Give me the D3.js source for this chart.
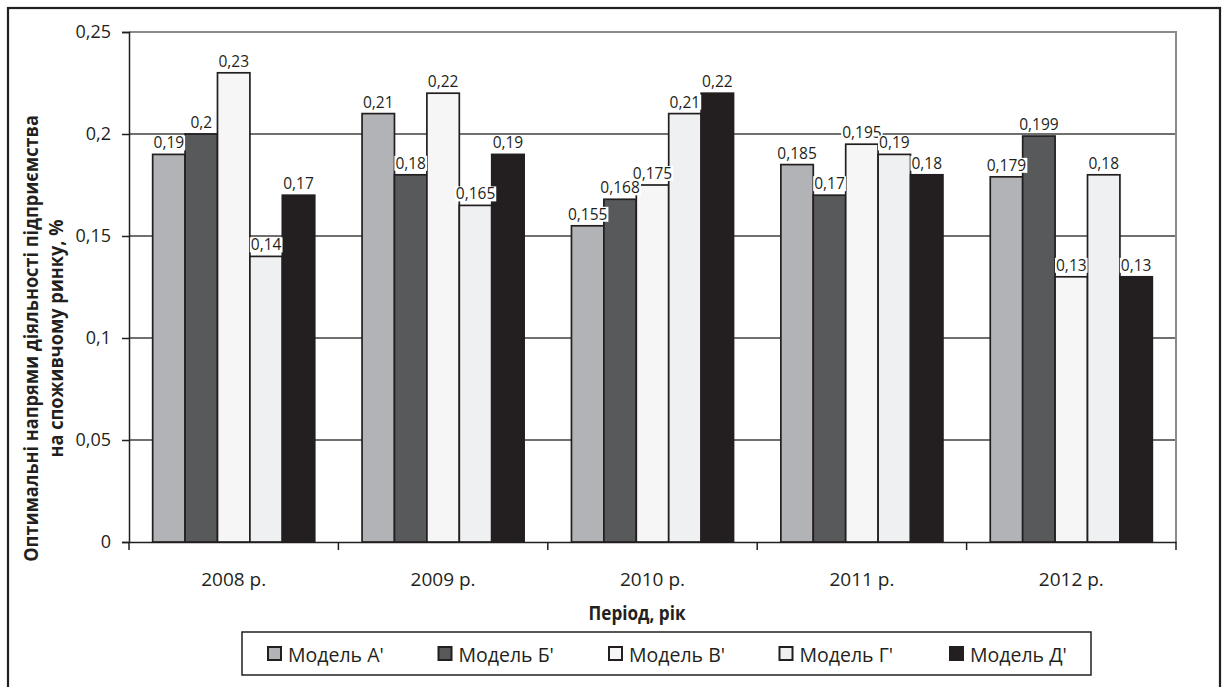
<!DOCTYPE html>
<html><head><meta charset="utf-8">
<script src="https://cdn.jsdelivr.net/npm/d3@7"></script>
<style>
body{margin:0;background:#fff;}
svg{display:block;}
text{font-family:"Open Sans","Noto Sans",sans-serif;fill:#231f20;}
</style></head><body>
<svg id="c" width="1224" height="687"></svg>
<script>
const categories = ["2008 р.","2009 р.","2010 р.","2011 р.","2012 р."];
const seriesNames = ["Модель А'","Модель Б'","Модель В'","Модель Г'","Модель Д'"];
const seriesColors = ["#b1b3b6","#58595b","#f6f6f6","#eff0f2","#231f20"];
const modelA = [0.19,0.21,0.155,0.185,0.179];
const modelB = [0.2,0.18,0.168,0.17,0.199];
const modelV = [0.23,0.22,0.175,0.195,0.13];
const modelG = [0.14,0.165,0.21,0.19,0.18];
const modelD = [0.17,0.19,0.22,0.18,0.13];
const yTicks = [0,0.05,0.1,0.15,0.2,0.25];
const seriesValues = [modelA,modelB,modelV,modelG,modelD];

const svg = d3.select("#c");
const L=129,R=1176,T=32,B=542;
const fmt = v => String(v).replace(".",",");

// outer frame
svg.append("rect").attr("x",8).attr("y",8).attr("width",1212).attr("height",700)
  .attr("fill","none").attr("stroke","#231f20").attr("stroke-width",2.2);

const x0 = d3.scaleBand().domain(categories).range([L,R]).paddingInner(0).paddingOuter(0);
const x1 = d3.scaleBand().domain(d3.range(5)).range([0,x0.bandwidth()]).paddingOuter(0.73).paddingInner(0);
const y = d3.scaleLinear().domain([0,0.25]).range([B,T]);

// gridlines
svg.append("g").selectAll("line").data(yTicks.filter(t=>t>0 && t<0.25)).join("line")
  .attr("x1",L).attr("x2",R).attr("y1",d=>y(d)).attr("y2",d=>y(d))
  .attr("stroke","#414042").attr("stroke-width",1.3);
// plot area top/right border
svg.append("path").attr("d",`M${L},${T}H${R}V${B}`).attr("fill","none")
  .attr("stroke","#8a8b8d").attr("stroke-width",2);

// y axis
const yAxis = svg.append("g").attr("transform",`translate(${L},0)`)
  .call(d3.axisLeft(y).tickValues(yTicks).tickFormat(fmt).tickSize(7).tickPadding(11));
yAxis.select(".domain").attr("stroke","#231f20").attr("stroke-width",1.5);
yAxis.selectAll(".tick line").attr("stroke","#231f20").attr("stroke-width",1.5);
yAxis.selectAll(".tick text").attr("font-size",18).attr("fill","#231f20")
  .attr("font-family","'Open Sans',sans-serif");

// x axis
const xAxis = svg.append("g").attr("transform",`translate(0,${B})`)
  .call(d3.axisBottom(x0).tickSize(0).tickPadding(31));
xAxis.select(".domain").attr("stroke","#231f20").attr("stroke-width",1.5);
xAxis.selectAll(".tick text").attr("font-size",19).attr("fill","#231f20")
  .attr("font-family","'Open Sans',sans-serif");
svg.append("g").selectAll("line").data(d3.range(6)).join("line")
  .attr("x1",i=>L+i*x0.step()).attr("x2",i=>L+i*x0.step())
  .attr("y1",B).attr("y2",B+8).attr("stroke","#231f20").attr("stroke-width",1.5);

// bars
const groups = svg.append("g").selectAll("g").data(categories).join("g")
  .attr("transform",d=>`translate(${x0(d)},0)`);
const barData = (c,ci) => seriesValues.map((vals,si)=>({si,v:vals[ci]}));
groups.each(function(c,ci){
  d3.select(this).selectAll("rect.bar").data(barData(c,ci)).join("rect").attr("class","bar")
    .attr("x",d=>x1(d.si)).attr("width",x1.bandwidth())
    .attr("y",d=>y(d.v)).attr("height",d=>B-y(d.v))
    .attr("fill",d=>seriesColors[d.si]).attr("stroke","#231f20").attr("stroke-width",1.7);
});
// data labels with white backing
groups.each(function(c,ci){
  const lg = d3.select(this).selectAll("g.lab").data(barData(c,ci)).join("g").attr("class","lab")
    .attr("transform",d=>`translate(${x1(d.si)+x1.bandwidth()/2},${y(d.v)-6})`);
  lg.each(function(d){
    const gg = d3.select(this);
    const t = gg.append("text").attr("text-anchor","middle").attr("font-size",15.5).text(fmt(d.v));
    const bb = t.node().getBBox();
    gg.insert("rect","text").attr("x",bb.x-1).attr("y",-13).attr("width",bb.width+2).attr("height",15)
      .attr("fill","#fff");
  });
});

// axis titles
svg.append("text").attr("transform","translate(637,620) scale(0.88,1)").attr("text-anchor","middle")
  .attr("font-size",19.5).attr("font-weight","bold").text("Період, рік");
const yt = svg.append("text").attr("transform","translate(0,338.5) rotate(-90) scale(0.93,1)")
  .attr("text-anchor","middle").attr("font-size",19.5).attr("font-weight","bold");
yt.append("tspan").attr("x",0).attr("y",38).text("Оптимальні напрями діяльності підприємства");
yt.append("tspan").attr("x",0).attr("y",63).text("на споживчому ринку, %");

// legend
svg.append("rect").attr("x",242).attr("y",632).attr("width",849).attr("height",43)
  .attr("fill","#fff").attr("stroke","#231f20").attr("stroke-width",1.5);
const lx = d3.scalePoint().domain(seriesNames).range([268,950]);
const li = svg.append("g").selectAll("g").data(seriesNames).join("g")
  .attr("transform",d=>`translate(${lx(d)},647)`);
li.append("rect").attr("width",13).attr("height",13)
  .attr("fill",(d,i)=>seriesColors[i]).attr("stroke","#231f20").attr("stroke-width",2);
li.append("text").attr("x",20).attr("y",15).attr("font-size",19.5).text(d=>d);
</script></body></html>
